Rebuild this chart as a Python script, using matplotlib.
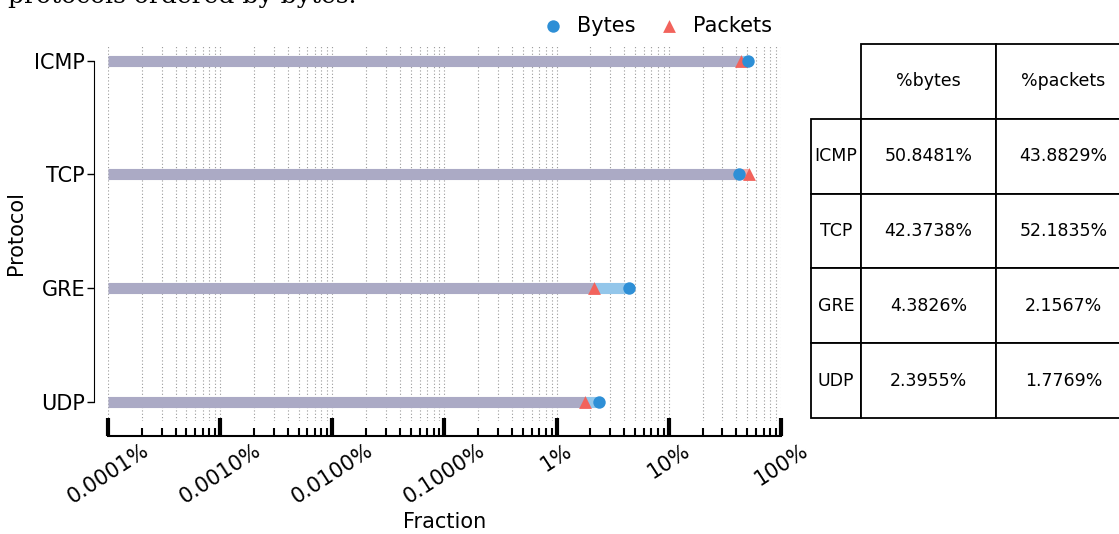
import numpy as np
import matplotlib.pyplot as plt
from matplotlib.ticker import FuncFormatter, LogLocator, NullFormatter

protocols = ["ICMP", "TCP", "GRE", "UDP"]
pct_bytes = [50.8481, 42.3738, 4.3826, 2.3955]
pct_packets = [43.8829, 52.1835, 2.1567, 1.7769]

C_BYTES = "#2e8fd6"
C_PACKETS = "#f2635c"
C_BASE = "#abaac5"
C_BYTES_LIGHT = "#93c6ea"
C_PACKETS_LIGHT = "#f5aaa6"

W, H = 1119, 534
fig = plt.figure(figsize=(W / 100, H / 100), dpi=100)
ax = fig.add_axes([108 / W, 1 - 421 / H, (781 - 108) / W, (421 - 45) / H])

frac_b = np.array(pct_bytes) / 100
frac_p = np.array(pct_packets) / 100
y = np.arange(len(protocols))
xmin = 1e-6

for i in y:
    lo, hi = min(frac_b[i], frac_p[i]), max(frac_b[i], frac_p[i])
    ax.plot([xmin, lo], [i, i], color=C_BASE, lw=8, solid_capstyle="butt", zorder=2)
    c = C_BYTES_LIGHT if frac_b[i] > frac_p[i] else C_PACKETS_LIGHT
    ax.plot([lo, hi], [i, i], color=c, lw=8, solid_capstyle="butt", zorder=2)

ax.scatter(frac_b, y, color=C_BYTES, s=80, marker="o", zorder=4, label="Bytes", linewidths=0)
ax.scatter(frac_p, y, color=C_PACKETS, s=85, marker="^", zorder=3, label="Packets", linewidths=0)

ax.set_xscale("log")
ax.set_xlim(1e-6, 1)
ax.set_ylim(3.17, -0.14)
ax.set_yticks(y)
ax.set_yticklabels(protocols)

def pct_fmt(v, pos):
    p = v * 100
    if p >= 1:
        return f"{p:.0f}%"
    return f"{p:.4f}%"

ax.xaxis.set_major_locator(LogLocator(base=10, numticks=10))
ax.xaxis.set_minor_locator(LogLocator(base=10, subs=np.arange(2, 10), numticks=20))
ax.xaxis.set_major_formatter(FuncFormatter(pct_fmt))
ax.xaxis.set_minor_formatter(NullFormatter())

ax.grid(True, axis="x", which="both", color="#999999", ls=(0, (1, 2)), lw=0.8, zorder=0)
ax.set_axisbelow(True)

ax.tick_params(axis="x", which="major", direction="in", length=13, width=3, pad=3,
               labelsize=15, labelrotation=33)
ax.tick_params(axis="x", which="minor", direction="in", length=6, width=1.5)
ax.tick_params(axis="y", direction="out", length=5, width=1, pad=1.5, labelsize=15)

for s in ["top", "right"]:
    ax.spines[s].set_visible(False)
ax.spines["left"].set_position(("outward", 10))
ax.spines["bottom"].set_position(("outward", 11))
ax.spines["left"].set_bounds(0, 3)
ax.spines["bottom"].set_bounds(1e-6, 1)
ax.spines["bottom"].set_linewidth(1.5)

ax.set_xlabel("Fraction", fontsize=15, labelpad=3)
ax.set_ylabel("Protocol", fontsize=15, labelpad=6)

ax.legend(loc="lower center", bbox_to_anchor=(0.808, 0.975), ncol=2, frameon=False,
          fontsize=15, handletextpad=0.15, columnspacing=0.6, markerscale=1.0)

fig.text(8 / W, 1 - 3 / H, "protocols ordered by bytes.", family="DejaVu Serif",
         fontsize=18, ha="left", va="baseline")

# table
tax = fig.add_axes([811 / W, 1 - 418 / H, 320 / W, (418 - 44) / H])
tax.axis("off")
cell_text = [["", "%bytes", "%packets"]]
cell_text += [[p, f"{b:.4f}%", f"{k:.4f}%"] for p, b, k in zip(protocols, pct_bytes, pct_packets)]
tbl = tax.table(cellText=cell_text, colWidths=[50 / 320, 135 / 320, 135 / 320],
                cellLoc="center", bbox=[0, 0, 1, 1])
tbl.auto_set_font_size(False)
tbl.set_fontsize(12.5)
for (r, c), cell in tbl.get_celld().items():
    cell.set_linewidth(1.3)
    cell.PAD = 0.02
    if r == 0 and c == 0:
        cell.visible_edges = ""

fig.savefig("out.png", dpi=100)
